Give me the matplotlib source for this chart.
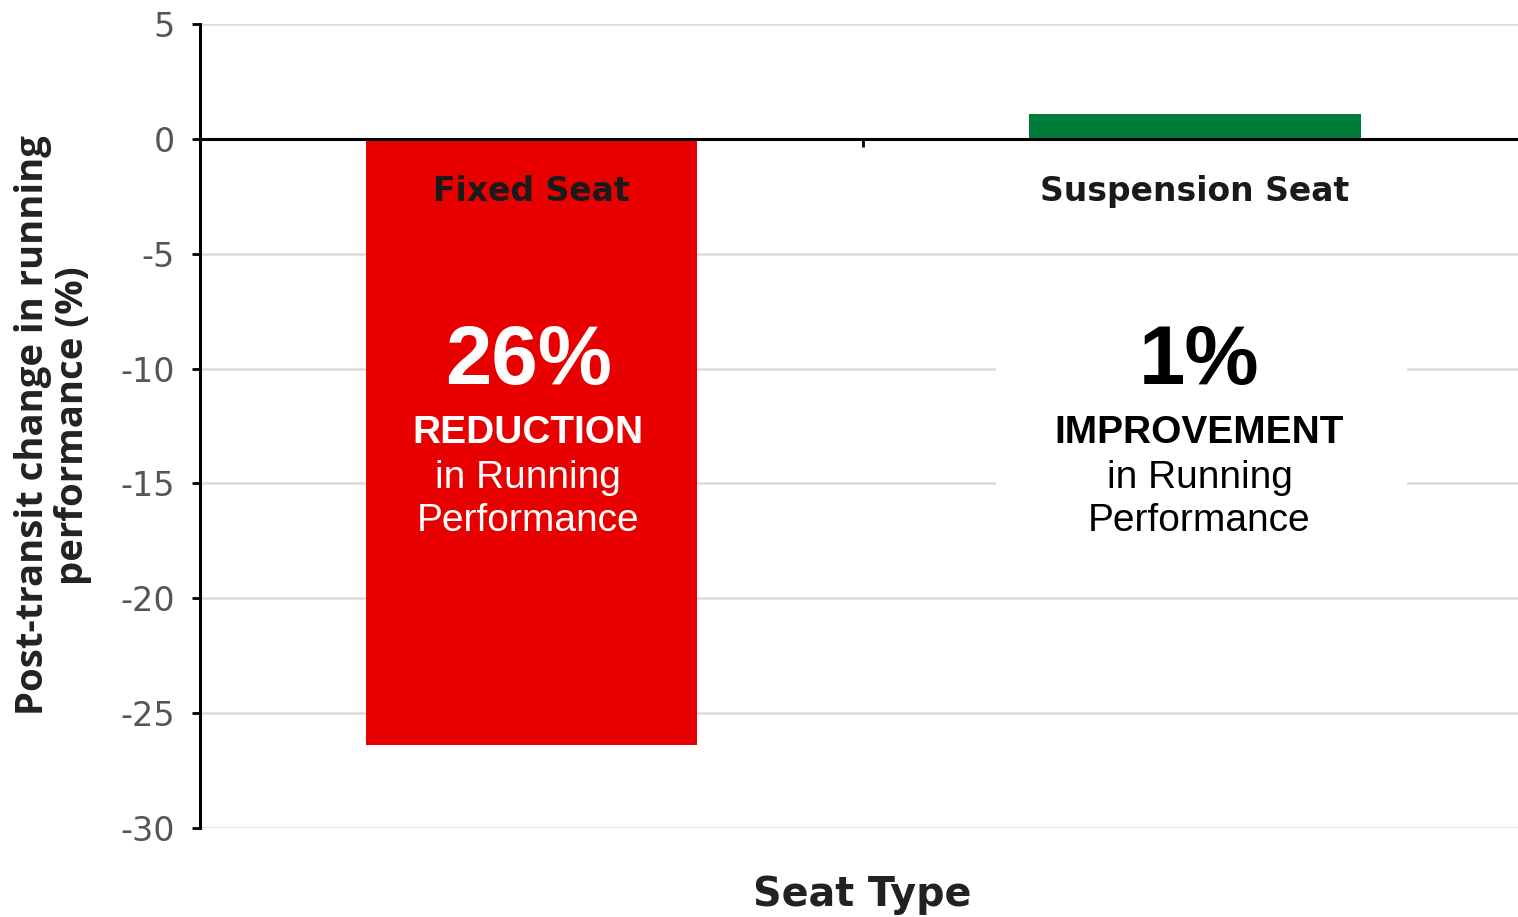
import matplotlib
matplotlib.use("Agg")
import matplotlib.pyplot as plt
from matplotlib.patches import Rectangle

# data
seat_types = ["Fixed Seat", "Suspension Seat"]
change_pct = [-26.4, 1.1]
bar_colors = ["#e80000", "#007a3a"]
headline = ["26%", "1%"]
headline_word = ["REDUCTION", "IMPROVEMENT"]
text_colors = ["white", "black"]
y_ticks = [5, 0, -5, -10, -15, -20, -25, -30]

plt.rcParams["axes.unicode_minus"] = False

fig = plt.figure(figsize=(15.18, 9.17), dpi=100)
ax = fig.add_axes([0.1316, 0.097, 0.874, 0.8768])

x = list(range(len(seat_types)))
ax.bar(x, change_pct, width=0.5, color=bar_colors, zorder=2)

ax.set_xlim(-0.5, 1.5)
ax.set_ylim(-30, 5)
ax.set_yticks(y_ticks)
ax.set_yticklabels([str(v) for v in y_ticks], fontsize=24, color="#555555")
ax.yaxis.grid(True, color="#dcdcdc", linewidth=1.8, zorder=0)
ax.set_axisbelow(True)

# zero line via bottom spine, with the single centre tick
ax.spines["bottom"].set_position(("data", 0))
ax.spines["bottom"].set_linewidth(2.2)
ax.spines["bottom"].set_zorder(3)
ax.spines["left"].set_linewidth(2.2)
ax.spines["top"].set_visible(False)
ax.spines["right"].set_visible(False)
ax.set_xticks([0.5])
ax.set_xticklabels([""])
ax.tick_params(axis="x", length=6, width=2)
ax.tick_params(axis="y", length=6, width=2, pad=12)

# white panel behind the right annotation
ax.add_patch(Rectangle((0.70, -18.3), 0.62, 11.3, facecolor="white",
                       edgecolor="none", zorder=1))

shift = [-0.005, 0.007]
for i, name in enumerate(seat_types):
    xc = i + shift[i]
    ax.text(i, -2.3, name, ha="center", va="center", fontsize=23.8,
            fontweight="bold", color="#1a1a1a", zorder=4)
    ax.text(xc, -9.7, headline[i], ha="center", va="center", fontsize=60,
            fontweight="bold", family="Liberation Sans", color=text_colors[i], zorder=4)
    ax.text(xc, -12.8, headline_word[i], ha="center", va="center", fontsize=28,
            fontweight="bold", family="Liberation Sans", color=text_colors[i], zorder=4)
    ax.text(xc, -14.75, "in Running", ha="center", va="center", fontsize=28,
            family="Liberation Sans", color=text_colors[i], zorder=4)
    ax.text(xc, -16.65, "Performance", ha="center", va="center", fontsize=28,
            family="Liberation Sans", color=text_colors[i], zorder=4)

fig.text(0.568, 0.024, "Seat Type", ha="center", va="center", fontsize=28.5,
         fontweight="bold", color="#222222")
fig.text(0.035, 0.536, "Post-transit change in running\nperformance (%)",
         ha="center", va="center", rotation=90, fontsize=27.5,
         fontweight="bold", family="Open Sans", color="#222222", linespacing=1.05)

fig.savefig("out.png", dpi=100)
